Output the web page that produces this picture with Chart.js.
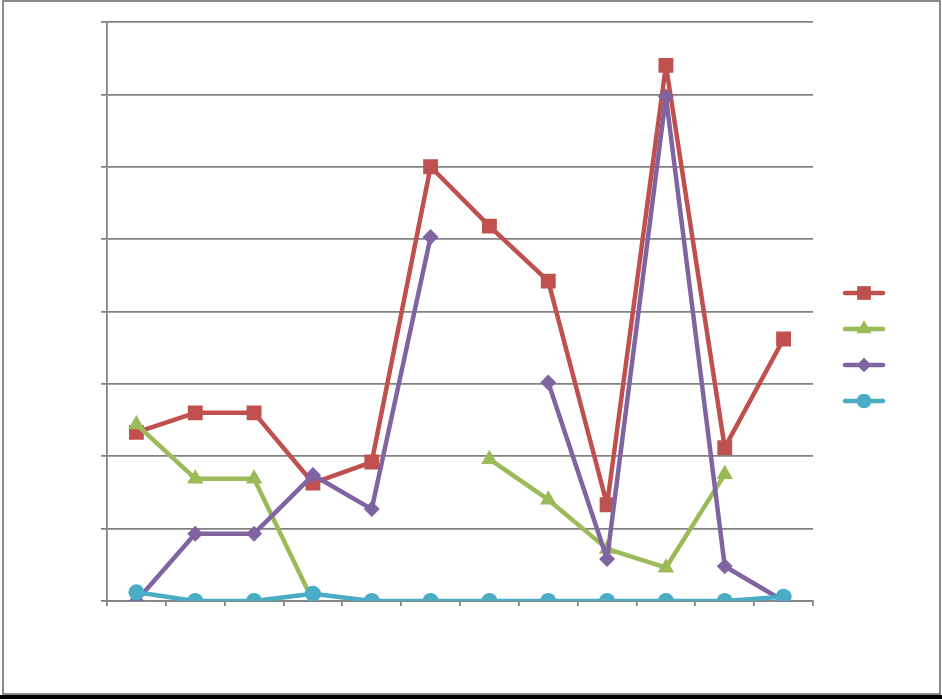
<!DOCTYPE html>
<html lang="en">
<head>
  <meta charset="UTF-8">
  <title>Line Chart</title>
  <script src="https://cdn.jsdelivr.net/npm/chart.js"></script>
  <style>
    html, body {
      margin: 0;
      padding: 0;
      background: #fff;
    }
    .frame {
      position: absolute;
      left: 2px;
      top: 0;
      width: 935px;
      height: 691px;
      border: 2px solid #8a8a8a;
    }
    .shadow {
      position: absolute;
      left: 0;
      top: 695px;
      width: 942px;
      height: 4px;
      background: #000;
    }
    .wrap {
      position: absolute;
      left: 0;
      top: 0;
      width: 942px;
      height: 699px;
    }
  </style>
</head>
<body>
<div class="frame"></div>
<div class="shadow"></div>
<div class="wrap"><canvas id="chart"></canvas></div>

<script>
  // Data (grid units, 8 gridline intervals)
  const categories = ['1', '2', '3', '4', '5', '6', '7', '8', '9', '10', '11', '12'];
  const redValues    = [2.33, 2.60, 2.60, 1.63, 1.92, 6.00, 5.18, 4.42, 1.33, 7.40, 2.12, 3.62];
  const greenValues  = [2.44, 1.69, 1.69, 0.00, null, null, 1.96, 1.40, 0.72, 0.46, 1.75, null];
  const purpleValues = [0.00, 0.93, 0.93, 1.74, 1.27, 5.03, null, 3.02, 0.58, 6.97, 0.48, 0.00];
  const cyanValues   = [0.12, 0.00, 0.00, 0.10, 0.00, 0.00, 0.00, 0.00, 0.00, 0.00, 0.00, 0.06];

  const gridColor = '#828282';

  const series = [
    { name: '', data: redValues,    color: '#C0504D', style: 'rect',     radius: 10.5, order: 3 },
    { name: '', data: greenValues,  color: '#9BBB59', style: 'triangle', radius: 9.5, order: 2 },
    { name: '', data: purpleValues, color: '#8064A2', style: 'rectRot',  radius: 8, order: 1 },
    { name: '', data: cyanValues,   color: '#4BACC6', style: 'circle',   radius: 8, order: 0 }
  ];

  // draws a marker for the legend
  function drawMarker(ctx, style, x, y, r) {
    ctx.beginPath();
    if (style === 'rect') {
      const s = r * Math.SQRT1_2;
      ctx.rect(x - s, y - s, 2 * s, 2 * s);
    } else if (style === 'triangle') {
      ctx.moveTo(x, y - r);
      ctx.lineTo(x + r * 0.866, y + r * 0.5);
      ctx.lineTo(x - r * 0.866, y + r * 0.5);
      ctx.closePath();
    } else if (style === 'rectRot') {
      ctx.moveTo(x, y - r);
      ctx.lineTo(x + r, y);
      ctx.lineTo(x, y + r);
      ctx.lineTo(x - r, y);
      ctx.closePath();
    } else {
      ctx.arc(x, y, r, 0, Math.PI * 2);
    }
    ctx.fill();
  }

  // Legend on the right: line + marker, no text
  const sideLegend = {
    id: 'sideLegend',
    afterDraw(chart) {
      const ctx = chart.ctx;
      const ys = [293, 329, 365, 401];
      ctx.save();
      series.forEach((s, i) => {
        ctx.strokeStyle = s.color;
        ctx.fillStyle = s.color;
        ctx.lineWidth = 4.5;
        ctx.lineCap = 'round';
        ctx.beginPath();
        ctx.moveTo(845, ys[i]);
        ctx.lineTo(883, ys[i]);
        ctx.stroke();
        drawMarker(ctx, s.style, 864, ys[i], s.radius * 0.92);
      });
      ctx.restore();
    }
  };

  const ctx = document.getElementById('chart').getContext('2d');
  new Chart(ctx, {
    type: 'line',
    data: {
      labels: categories,
      datasets: series.map(s => ({
        label: s.name,
        data: s.data,
        borderColor: s.color,
        backgroundColor: s.color,
        borderWidth: 4.5,
        borderJoinStyle: 'round',
        borderCapStyle: 'round',
        pointStyle: s.style,
        pointRadius: s.radius,
        pointHoverRadius: s.radius,
        pointBorderWidth: 0,
        pointBackgroundColor: s.color,
        tension: 0,
        spanGaps: false,
        order: s.order
      }))
    },
    options: {
      responsive: true,
      maintainAspectRatio: false,
      animation: false,
      layout: {
        padding: { left: 101, top: 22, right: 129, bottom: 93 }
      },
      plugins: {
        legend: { display: false },
        tooltip: { enabled: false }
      },
      scales: {
        x: {
          offset: true,
          grid: {
            offset: true,
            drawOnChartArea: false,
            drawTicks: true,
            tickLength: 5,
            color: gridColor,
            lineWidth: 1.75
          },
          border: { color: gridColor, width: 1.75 },
          ticks: { display: false }
        },
        y: {
          min: 0,
          max: 8,
          ticks: { display: false, stepSize: 1 },
          grid: {
            color: gridColor,
            lineWidth: 1.75,
            tickLength: 6
          },
          border: { color: gridColor, width: 1.75 }
        }
      }
    },
    plugins: [sideLegend]
  });
</script>
</body>
</html>
